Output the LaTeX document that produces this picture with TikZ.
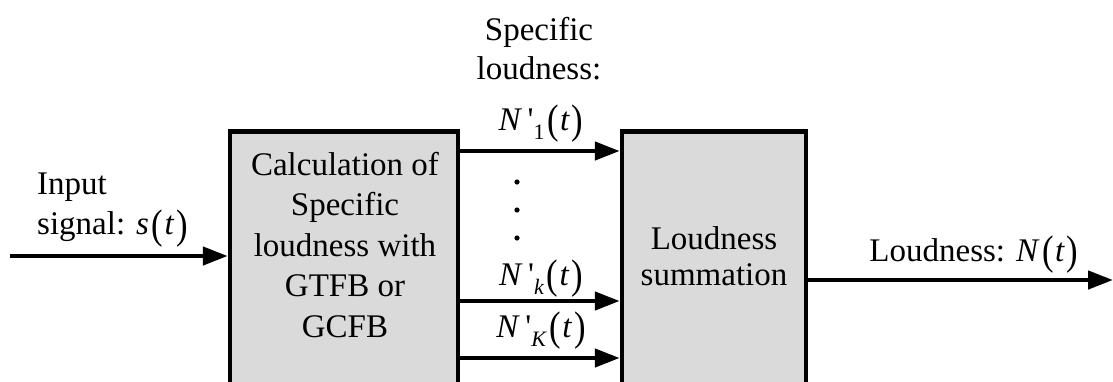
\documentclass[tikz,border=0pt]{standalone}
\usepackage{fontspec}
\usepackage{graphicx}
\setmainfont{Liberation Serif}
\usetikzlibrary{arrows.meta}
\definecolor{boxgray}{HTML}{DADADA}
\newcommand\lpar{\kern0.08em\raisebox{-0.1em}{\scalebox{1.05}[1.25]{(}}\kern0.04em}
\newcommand\rpar{\kern0.06em\raisebox{-0.1em}{\scalebox{1.05}[1.25]{)}}}
\newcommand\fnt[1]{\lpar\textit{#1}\rpar}
\newcommand\Np[1]{\textit{N}\,\textquotesingle\raisebox{-0.28em}{\fontsize{22}{22}\selectfont #1}\fnt{t}}
\begin{document}
\begin{tikzpicture}[x=1pt,y=-1pt,
  font=\fontsize{33}{40}\selectfont,
  blk/.style={draw, line width=4.5pt, fill=boxgray, inner sep=0pt, anchor=north},
  lbl/.style={inner sep=0pt, align=center},
  arr/.style={line width=4.5pt, -{Triangle[length=25pt,width=18pt]}}]
\useasboundingbox (0,0) rectangle (1113,381);
\begin{scope}
\clip (0,0) rectangle (1113,381);
% blocks
\node[blk, minimum width=228pt, minimum height=290pt] (calc) at (344,129) {};
\node[blk, minimum width=184pt, minimum height=290pt] (sum) at (714,129) {};
% block texts
\node[lbl, font=\fontsize{33}{40.5}\selectfont] (calctxt) at (345,245) {Calculation of\\Specific\\loudness with\\GTFB or\\GCFB};
\node[lbl, font=\fontsize{33}{36}\selectfont] (sumtxt) at (714,256) {Loudness\\summation};
% outer labels
\node[lbl, align=left, anchor=west, font=\fontsize{33}{40}\selectfont] (inlbl) at (37,210) {Input\\signal: \textit{s}\fnt{t}};
\node[lbl, font=\fontsize{33}{39}\selectfont] (speclbl) at (539,49) {Specific\\loudness:};
\node[lbl, anchor=base] (outlbl) at (974,261) {Loudness: \textit{N}\fnt{t}};
\node[lbl, anchor=base] (n1) at (541,130) {\Np{1}};
\node[lbl, anchor=base] (nk) at (541,285) {\Np{\textit{k}}};
\node[lbl, anchor=base] (nK) at (541,337) {\Np{\textit{K}}};
% coordinates
\coordinate (in) at (10,256);
\coordinate (y1) at (0,151);
\coordinate (yk) at (0,301);
\coordinate (yK) at (0,358);
\coordinate (out) at (1113,280);
% arrows
\draw[arr] (in) -- (in -| calc.west);
\draw[arr] (calc.east |- y1) -- (sum.west |- y1);
\draw[arr] (calc.east |- yk) -- (sum.west |- yk);
\draw[arr] (calc.east |- yK) -- (sum.west |- yK);
\draw[arr] (sum.east |- out) -- (out);
% dots
\fill (517,182) circle (2.6pt) (517,210) circle (2.6pt) (517,238) circle (2.6pt);
\end{scope}
\end{tikzpicture}
\end{document}
